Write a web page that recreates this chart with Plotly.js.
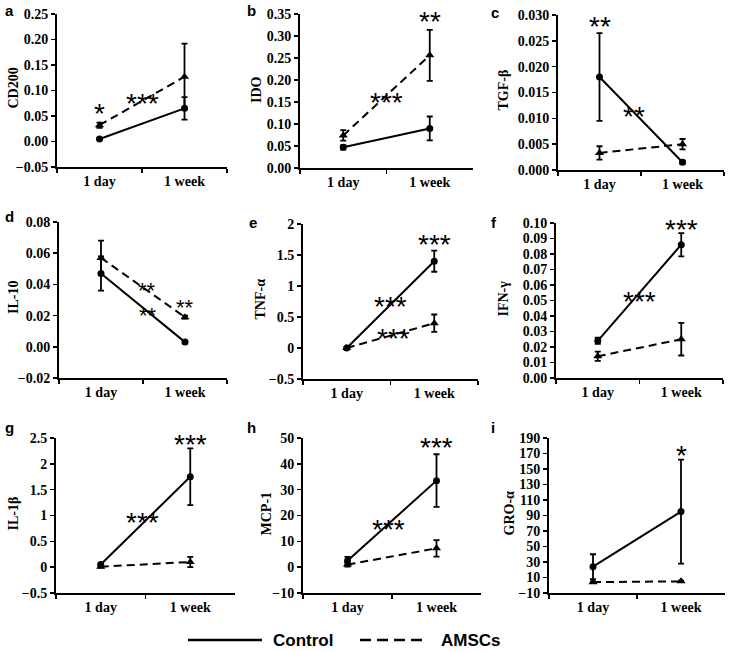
<!DOCTYPE html>
<html>
<head>
<meta charset="utf-8">
<script src="https://cdn.plot.ly/plotly-3.0.1.min.js"></script>
<style>html,body{margin:0;padding:0;background:#fff;}#chart{width:729px;height:652px;}</style>
</head>
<body>
<div id="chart"></div>
<script>
// ---------- DATA ----------
const categories = ['1 day', '1 week'];
const seriesNames = ['Control', 'AMSCs'];
const panelLabels = ['a', 'b', 'c', 'd', 'e', 'f', 'g', 'h', 'i'];
const markerNames = ['CD200', 'IDO', 'TGF-β', 'IL-10', 'TNF-α', 'IFN-γ', 'IL-1β', 'MCP-1', 'GRO-α'];

const controlMeans = [[0.005, 0.065], [0.047, 0.090], [0.0180, 0.0015], [0.047, 0.003], [0.00, 1.40], [0.024, 0.086], [0.05, 1.75], [2.5, 33.5], [24, 95]];
const controlErrs  = [[0.002, 0.022], [0.005, 0.027], [0.0085, 0.0003], [0.011, 0.001], [0.01, 0.17], [0.002, 0.0075], [0.03, 0.55], [1.5, 10.2], [16, 67]];
const amscMeans    = [[0.032, 0.127], [0.074, 0.256], [0.0033, 0.0050], [0.057, 0.019], [0.00, 0.40], [0.014, 0.025], [0.01, 0.10], [1.0, 7.3], [4, 5]];
const amscErrs     = [[0.005, 0.065], [0.012, 0.058], [0.0013, 0.0010], [0.011, 0.001], [0.01, 0.14], [0.003, 0.0105], [0.02, 0.10], [0.8, 3.2], [1, 1]];

// y-axis tick settings per panel: [min, max], step, format
const yRanges = [[-0.05, 0.25], [0, 0.35], [0, 0.03], [-0.02, 0.08], [-0.5, 2], [0, 0.10], [-0.5, 2.5], [-10, 50], [-10, 190]];
const yTickSteps = [0.05, 0.05, 0.005, 0.02, 0.5, 0.01, 0.5, 10, 20];
const yTickFormats = ['.2f', '.2f', '.3f', '.2f', '', '.2f', '', '', ''];

// significance marks: panel index, category position, value, text
const sigPanel = [0, 0, 1, 1, 2, 2, 3, 3, 3, 4, 4, 4, 5, 5, 6, 6, 7, 7, 8];
const sigX     = [0, 0.5, 1, 0.5, 0, 0.41, 0.55, 1, 0.56, 1, 0.5, 0.53, 1, 0.5, 1, 0.47, 1, 0.46, 1];
const sigY     = [0.062, 0.083, 0.341, 0.159, 0.0285, 0.0112, 0.0377, 0.0274, 0.0217, 1.74, 0.74, 0.21, 0.0987, 0.052, 2.46, 0.95, 47.7, 16.3, 172];
const sigText  = ['*', '***', '**', '***', '**', '**', '**', '**', '**', '***', '***', '***', '***', '***', '***', '***', '***', '***', '*'];

// ---------- LAYOUT (pixel geometry) ----------
const W = 729, H = 652;
const pxX = [[57, 227], [300, 473], [558, 724], [59, 227], [303, 478], [556, 723], [56, 235], [303, 481], [549, 725]];
const pxY = [[14, 167], [14, 168], [15, 170], [222, 378], [224, 379], [223, 378], [438, 593], [438, 593], [438, 593]];
const titleX = [13, 256, 503, 13, 260, 503, 13, 266, 509];
const letterPos = [[3, 10], [245, 10], [489, 12], [3, 217], [247, 222], [489, 222], [3, 427], [245, 427], [489, 427]];

const fx = p => p / W;
const fy = p => 1 - p / H;

const serif = 'Liberation Serif, Times New Roman, serif';
const tickFont = {family: serif, size: 14, color: '#000', weight: 'bold'};
const xTickFont = {family: serif, size: 14, color: '#000', weight: 'bold'};
const titleFont = {family: serif, size: 14, color: '#000', weight: 'bold'};
const sansBold = {family: 'Liberation Sans, Arial, sans-serif', color: '#000', weight: 'bold'};

const traces = [];
const layout = {
  width: W, height: H,
  margin: {l: 0, r: 0, t: 0, b: 0},
  paper_bgcolor: '#fff', plot_bgcolor: 'rgba(0,0,0,0)',
  showlegend: false,
  annotations: [], shapes: []
};

for (let i = 0; i < 9; i++) {
  const n = i === 0 ? '' : String(i + 1);
  const xa = 'x' + n, ya = 'y' + n;
  traces.push({
    type: 'scatter', mode: 'lines+markers', name: seriesNames[0],
    x: categories, y: controlMeans[i], xaxis: xa, yaxis: ya,
    line: {color: '#000', width: 2},
    marker: {symbol: 'circle', size: 7, color: '#000'},
    error_y: {type: 'data', array: controlErrs[i], visible: true, color: '#000', thickness: 1.8, width: 3},
    cliponaxis: false
  });
  traces.push({
    type: 'scatter', mode: 'lines+markers', name: seriesNames[1],
    x: categories, y: amscMeans[i], xaxis: xa, yaxis: ya,
    line: {color: '#000', width: 2, dash: '8px,5px'},
    marker: {symbol: 'triangle-up', size: 8, color: '#000'},
    error_y: {type: 'data', array: amscErrs[i], visible: true, color: '#000', thickness: 1.8, width: 3},
    cliponaxis: false
  });
  layout['xaxis' + n] = {
    domain: [fx(pxX[i][0]), fx(pxX[i][1])], anchor: ya,
    type: 'category', range: [-0.5, 1.5], tickson: 'boundaries',
    ticks: 'outside', ticklen: 4, tickwidth: 1.5, tickcolor: '#000',
    showline: true, linewidth: 2, linecolor: '#000',
    showgrid: false, zeroline: false, tickfont: xTickFont, fixedrange: true
  };
  layout['yaxis' + n] = {
    domain: [fy(pxY[i][1]), fy(pxY[i][0])], anchor: xa,
    range: yRanges[i], tick0: yRanges[i][0], dtick: yTickSteps[i], tickformat: yTickFormats[i],
    ticks: 'outside', ticklen: 4, tickwidth: 1.5, tickcolor: '#000',
    showline: true, linewidth: 2, linecolor: '#000',
    showgrid: false, zeroline: false, tickfont: tickFont, fixedrange: true
  };
  layout.annotations.push({
    xref: 'paper', yref: 'paper', x: fx(titleX[i]), y: fy((pxY[i][0] + pxY[i][1]) / 2 - 2),
    text: markerNames[i], textangle: -90, showarrow: false, font: titleFont,
    xanchor: 'center', yanchor: 'middle'
  });
  layout.annotations.push({
    xref: 'paper', yref: 'paper', x: fx(letterPos[i][0]), y: fy(letterPos[i][1]),
    text: panelLabels[i], showarrow: false, font: Object.assign({size: 15}, sansBold),
    xanchor: 'left', yanchor: 'middle'
  });
}

for (let k = 0; k < sigText.length; k++) {
  const p = sigPanel[k];
  const n = p === 0 ? '' : String(p + 1);
  const size = p === 3 ? 22 : 28;
  layout.annotations.push({
    xref: 'x' + n, yref: 'y' + n, x: sigX[k], y: sigY[k],
    text: sigText[k], showarrow: false,
    font: {family: 'Liberation Sans, Arial, sans-serif', size: size, color: '#000'},
    xanchor: 'center', yanchor: 'middle', yshift: -Math.round(size * 0.14)
  });
}

// legend drawn at bottom
const legY = 640;
layout.shapes.push({type: 'line', xref: 'paper', yref: 'paper', x0: fx(188), x1: fx(262), y0: fy(legY), y1: fy(legY), line: {color: '#000', width: 2.5}});
layout.shapes.push({type: 'line', xref: 'paper', yref: 'paper', x0: fx(360), x1: fx(426), y0: fy(legY), y1: fy(legY), line: {color: '#000', width: 2.5, dash: '11px,6px'}});
layout.annotations.push({xref: 'paper', yref: 'paper', x: fx(271), y: fy(legY), text: seriesNames[0], showarrow: false, xanchor: 'left', yanchor: 'middle', font: Object.assign({size: 17}, sansBold)});
layout.annotations.push({xref: 'paper', yref: 'paper', x: fx(439), y: fy(legY), text: seriesNames[1], showarrow: false, xanchor: 'left', yanchor: 'middle', font: Object.assign({size: 17}, sansBold)});

Plotly.newPlot('chart', traces, layout, {staticPlot: true, displayModeBar: false});
</script>
</body>
</html>
